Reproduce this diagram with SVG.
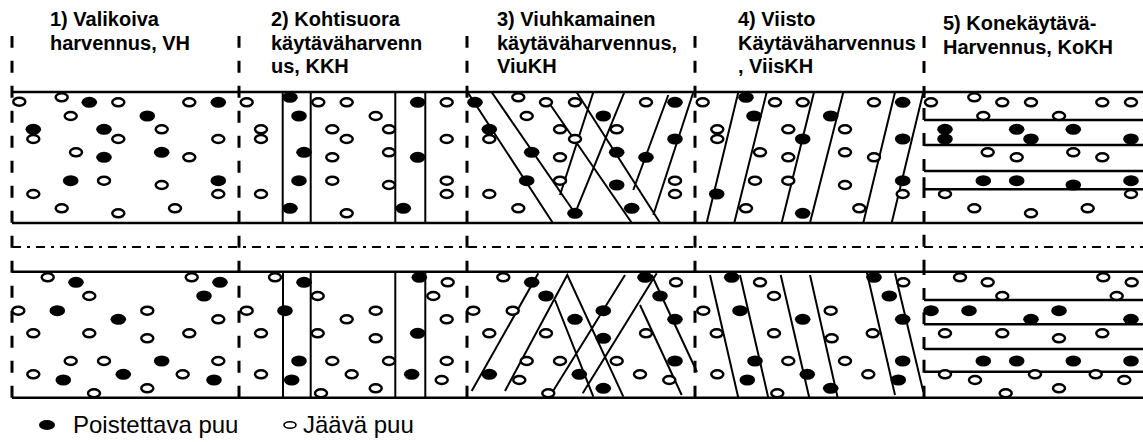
<svg xmlns="http://www.w3.org/2000/svg" xmlns:xlink="http://www.w3.org/1999/xlink" width="1143" height="442" viewBox="0 0 1143 442">
  <style>
    .frame { stroke: #000; stroke-width: 2.5; fill: none; }
    .bound { stroke: #000; stroke-width: 3; fill: none; stroke-dasharray: 12 13; }
    .dd { stroke: #000; stroke-width: 2; fill: none; stroke-dasharray: 9 6 3 6; }
    .cut { stroke: #000; stroke-width: 2; fill: none; }
    .hd { font-family: "Liberation Sans", Arial, sans-serif; font-weight: 700; font-size: 20px; fill: #000; }
    .lg { font-family: "Liberation Sans", Arial, sans-serif; font-size: 24px; fill: #000; }
  </style>
  <defs>
    <ellipse id="k" cx="0" cy="0" rx="7.8" ry="5.5" fill="#000"/>
    <ellipse id="o" cx="0" cy="0" rx="6" ry="4" fill="#fff" stroke="#000" stroke-width="2.5"/>
  </defs>
  <rect width="1143" height="442" fill="#fff"/>

  <!-- headings -->
  <g id="headings">
    <text class="hd" x="50" y="26">1) Valikoiva</text>
    <text class="hd" x="50" y="49.5">harvennus, VH</text>
    <text class="hd" x="271" y="26">2) Kohtisuora</text>
    <text class="hd" x="271" y="49.5">käytäväharvenn</text>
    <text class="hd" x="271" y="73">us, KKH</text>
    <text class="hd" x="497" y="26">3) Viuhkamainen</text>
    <text class="hd" x="497" y="49.5">käytäväharvennus,</text>
    <text class="hd" x="497" y="73">ViuKH</text>
    <text class="hd" x="738" y="26">4) Viisto</text>
    <text class="hd" x="738" y="49.5">Käytäväharvennus</text>
    <text class="hd" x="738" y="73">, ViisKH</text>
    <text class="hd" x="943" y="30">5) Konekäytävä-</text>
    <text class="hd" x="943" y="53.5">Harvennus, KoKH</text>
  </g>

  <!-- stand outline: edges, road strip and plot boundaries -->
  <g id="frame">
    <path class="frame" d="M12 92H1143M12 223H1143M12 271.7H1143M12 397.7H1143"/>
    <path class="dd" d="M12 247H1143"/>
    <path class="bound" d="M12 397.7V36M239 397.7V36M467 397.7V36M695 397.7V36"/>
    <path class="bound" d="M924 98V36M924 271.7V223"/>
    <path class="bound" d="M924 223V189.3M924 189.3V171M924 171V145M924 145V120M924 120V92"/>
    <path class="bound" d="M924 397.7V371.7M924 371.7V349M924 349V324.3M924 324.3V300M924 300V271.7"/>
  </g>

  <!-- 1) selective thinning -->
  <g id="panel-1">
    <g id="panel-1-top">
      <use href="#k" x="89.3" y="102.3"/><use href="#k" x="218.3" y="102.3"/><use href="#k" x="147.3" y="116"/>
      <use href="#k" x="33.3" y="129.3"/><use href="#k" x="104" y="129.3"/><use href="#k" x="104" y="157.3"/>
      <use href="#k" x="161.7" y="152.3"/><use href="#k" x="70.7" y="180.7"/><use href="#k" x="218.3" y="180.7"/>
      <use href="#o" x="19.3" y="101.7"/><use href="#o" x="61.7" y="97.3"/><use href="#o" x="118.3" y="102.3"/>
      <use href="#o" x="189.3" y="102.3"/><use href="#o" x="70.7" y="116"/><use href="#o" x="33.3" y="139"/>
      <use href="#o" x="118.3" y="139"/><use href="#o" x="161.7" y="129.3"/><use href="#o" x="218.3" y="139"/>
      <use href="#o" x="76" y="152.3"/><use href="#o" x="189.3" y="157.3"/><use href="#o" x="104" y="180.7"/>
      <use href="#o" x="161.7" y="185"/><use href="#o" x="33.3" y="194"/><use href="#o" x="218.3" y="194"/>
      <use href="#o" x="61.7" y="208.3"/><use href="#o" x="118.3" y="213.3"/><use href="#o" x="175" y="208.3"/>
    </g>
    <g id="panel-1-bottom">
      <use href="#k" x="76" y="282.3"/><use href="#k" x="220" y="282.3"/><use href="#k" x="204" y="296"/>
      <use href="#k" x="57.3" y="310.7"/><use href="#k" x="118.3" y="319.3"/><use href="#k" x="161.7" y="361"/>
      <use href="#k" x="63.3" y="380"/><use href="#k" x="123.3" y="374.3"/><use href="#k" x="214" y="380"/>
      <use href="#o" x="47.7" y="277.3"/><use href="#o" x="191.7" y="277.3"/><use href="#o" x="89.3" y="296"/>
      <use href="#o" x="18.3" y="310.7"/><use href="#o" x="147.3" y="310.7"/><use href="#o" x="218.3" y="319.3"/>
      <use href="#o" x="33.3" y="333.3"/><use href="#o" x="89.3" y="333.3"/><use href="#o" x="147.3" y="338.3"/>
      <use href="#o" x="189.3" y="333.3"/><use href="#o" x="70.7" y="361"/><use href="#o" x="104" y="361"/>
      <use href="#o" x="218.3" y="361"/><use href="#o" x="33.3" y="374.3"/><use href="#o" x="182.7" y="374.3"/>
      <use href="#o" x="94" y="393.3"/><use href="#o" x="147.3" y="388.3"/>
    </g>
  </g>

  <!-- 2) perpendicular strip thinning -->
  <g id="panel-2">
    <path class="cut" d="M282.7 92V223M310.7 92V223M395.3 92V223M425.3 92V223M283 271.7V397.7M310.7 271.7V397.7M395.3 271.7V397.7M425.3 271.7V397.7"/>
    <g id="panel-2-top">
      <use href="#k" x="290" y="97.3"/><use href="#k" x="417.7" y="102.3"/><use href="#k" x="299" y="116"/>
      <use href="#k" x="304" y="152.3"/><use href="#k" x="417.7" y="157.3"/><use href="#k" x="299" y="180.7"/>
      <use href="#k" x="290" y="208.3"/><use href="#k" x="403.3" y="208.3"/>
      <use href="#o" x="246.7" y="102.3"/><use href="#o" x="318.3" y="102.3"/><use href="#o" x="346.7" y="102.3"/>
      <use href="#o" x="446.7" y="102.3"/><use href="#o" x="375.7" y="116"/><use href="#o" x="261" y="129.3"/>
      <use href="#o" x="261" y="139"/><use href="#o" x="332.3" y="129.3"/><use href="#o" x="346.7" y="139"/>
      <use href="#o" x="389" y="129.3"/><use href="#o" x="446.7" y="139"/><use href="#o" x="332.3" y="157.3"/>
      <use href="#o" x="389" y="152.3"/><use href="#o" x="332.3" y="180.7"/><use href="#o" x="389" y="185"/>
      <use href="#o" x="446.7" y="180.7"/><use href="#o" x="261" y="194"/><use href="#o" x="446.7" y="194"/>
      <use href="#o" x="346.7" y="213.3"/>
    </g>
    <g id="panel-2-bottom">
      <use href="#k" x="304" y="282.3"/><use href="#k" x="419.3" y="277.3"/><use href="#k" x="285" y="310.7"/>
      <use href="#k" x="417.7" y="333.3"/><use href="#k" x="299" y="361"/><use href="#k" x="291.7" y="380"/>
      <use href="#k" x="411.7" y="374.3"/>
      <use href="#o" x="275" y="277.3"/><use href="#o" x="447.7" y="282.3"/><use href="#o" x="317.7" y="296"/>
      <use href="#o" x="433.3" y="296"/><use href="#o" x="246.7" y="310.7"/><use href="#o" x="346.7" y="319.3"/>
      <use href="#o" x="375.7" y="310.7"/><use href="#o" x="446.7" y="319.3"/><use href="#o" x="261" y="333.3"/>
      <use href="#o" x="317.7" y="333.3"/><use href="#o" x="375.7" y="338.3"/><use href="#o" x="332.3" y="361"/>
      <use href="#o" x="389" y="361"/><use href="#o" x="446.7" y="361"/><use href="#o" x="261" y="374.3"/>
      <use href="#o" x="351.7" y="374.3"/><use href="#o" x="441.7" y="380"/><use href="#o" x="321" y="393.3"/>
      <use href="#o" x="375.7" y="388.3"/>
    </g>
  </g>

  <!-- 3) fan-shaped strip thinning -->
  <g id="panel-3">
    <path class="cut" d="M468.3 93.3L552.7 222.7M491.7 92.3L575 213.3M549.3 103.3L631.7 222.7M576.7 92.3L660 222.7M593.3 92.3L560 195M624.3 92.3L575 213.3M668.3 95L633.3 190M693.3 92.3L653.3 215"/>
    <path class="cut" d="M471.7 391L538.3 273.3M505 391L567.3 275L623.3 396.7M555 300L593.3 396.7M625 275L551.7 393.3M656.7 273.3L582.7 393.3M640 305L681.7 395M651.7 275L697 372"/>
    <g id="panel-3-top">
      <use href="#k" x="475" y="102.3"/><use href="#k" x="675" y="102.3"/><use href="#k" x="603.3" y="116"/>
      <use href="#k" x="489.3" y="129.3"/><use href="#k" x="675" y="139"/><use href="#k" x="531.7" y="152.3"/>
      <use href="#k" x="616.7" y="152.3"/><use href="#k" x="646" y="157.3"/><use href="#k" x="526.7" y="180.7"/>
      <use href="#k" x="616.7" y="185"/><use href="#k" x="575" y="213.3"/><use href="#k" x="631.7" y="208.3"/>
      <use href="#o" x="518.3" y="97.3"/><use href="#o" x="546" y="102.3"/><use href="#o" x="575" y="102.3"/>
      <use href="#o" x="646" y="102.3"/><use href="#o" x="526.7" y="116"/><use href="#o" x="489.3" y="139"/>
      <use href="#o" x="560" y="129.3"/><use href="#o" x="575" y="139"/><use href="#o" x="616.7" y="129.3"/>
      <use href="#o" x="560" y="157.3"/><use href="#o" x="560" y="180.7"/><use href="#o" x="675" y="180.7"/>
      <use href="#o" x="489.3" y="194"/><use href="#o" x="675" y="194"/><use href="#o" x="518.3" y="208.3"/>
    </g>
    <g id="panel-3-bottom">
      <use href="#k" x="531.7" y="282.3"/><use href="#k" x="645" y="277.3"/><use href="#k" x="546" y="296"/>
      <use href="#k" x="660" y="296"/><use href="#k" x="575" y="319.3"/><use href="#k" x="603.3" y="310.7"/>
      <use href="#k" x="675" y="319.3"/><use href="#k" x="603.3" y="338.3"/><use href="#k" x="675" y="361"/>
      <use href="#k" x="489.3" y="374.3"/><use href="#k" x="579.3" y="374.3"/><use href="#k" x="603.3" y="388.3"/>
      <use href="#o" x="503.3" y="277.3"/><use href="#o" x="676" y="282.3"/><use href="#o" x="473.3" y="310.7"/>
      <use href="#o" x="512.7" y="310.7"/><use href="#o" x="489.3" y="333.3"/><use href="#o" x="546" y="333.3"/>
      <use href="#o" x="646" y="333.3"/><use href="#o" x="526.7" y="361"/><use href="#o" x="560" y="361"/>
      <use href="#o" x="616.7" y="361"/><use href="#o" x="519.3" y="380"/><use href="#o" x="640" y="374.3"/>
      <use href="#o" x="669.3" y="380"/><use href="#o" x="548.3" y="393.3"/>
    </g>
  </g>

  <!-- 4) oblique strip thinning -->
  <g id="panel-4">
    <path class="cut" d="M706.7 222.7L738.3 92.3M734.3 222.7L766.7 92.3M781.7 222.7L814 92.3M810 222.7L843.3 92.3M863.3 222.7L895 92.3M891.7 222.7L923.3 92.3"/>
    <path class="cut" d="M710 275L738.3 397.7M740 275L768.3 397.7M780.7 275L809.3 397.7M810 275L837.7 397.7M866.7 271.7L895 395M895 273.3L923.3 391.7"/>
    <g id="panel-4-top">
      <use href="#k" x="746" y="97.3"/><use href="#k" x="902.7" y="102.3"/><use href="#k" x="754" y="116"/>
      <use href="#k" x="830.7" y="116"/><use href="#k" x="802.7" y="139"/><use href="#k" x="902.7" y="139"/>
      <use href="#k" x="902.7" y="180.7"/><use href="#k" x="716.7" y="194"/><use href="#k" x="802.7" y="213.3"/>
      <use href="#o" x="702.7" y="102.3"/><use href="#o" x="775" y="102.3"/><use href="#o" x="802.7" y="102.3"/>
      <use href="#o" x="874" y="102.3"/><use href="#o" x="717.3" y="129.3"/><use href="#o" x="717.3" y="139"/>
      <use href="#o" x="788.3" y="129.3"/><use href="#o" x="845" y="129.3"/><use href="#o" x="760" y="152.3"/>
      <use href="#o" x="788.3" y="157.3"/><use href="#o" x="845" y="152.3"/><use href="#o" x="874" y="157.3"/>
      <use href="#o" x="755" y="180.7"/><use href="#o" x="788.3" y="180.7"/><use href="#o" x="845" y="185"/>
      <use href="#o" x="902.7" y="194"/><use href="#o" x="746" y="208.3"/><use href="#o" x="859.3" y="208.3"/>
    </g>
    <g id="panel-4-bottom">
      <use href="#k" x="731.7" y="277.3"/><use href="#k" x="874" y="277.3"/><use href="#k" x="889.3" y="296"/>
      <use href="#k" x="740" y="310.7"/><use href="#k" x="802.7" y="319.3"/><use href="#k" x="902.7" y="319.3"/>
      <use href="#k" x="755" y="361"/><use href="#k" x="902.7" y="361"/><use href="#k" x="747.3" y="380"/>
      <use href="#k" x="807.3" y="374.3"/><use href="#k" x="898.3" y="380"/><use href="#k" x="830.7" y="388.3"/>
      <use href="#o" x="760" y="282.3"/><use href="#o" x="903.3" y="282.3"/><use href="#o" x="774" y="296"/>
      <use href="#o" x="703.3" y="310.7"/><use href="#o" x="830.7" y="310.7"/><use href="#o" x="716.7" y="333.3"/>
      <use href="#o" x="774" y="333.3"/><use href="#o" x="831.7" y="338.3"/><use href="#o" x="872.7" y="333.3"/>
      <use href="#o" x="788.3" y="361"/><use href="#o" x="845" y="361"/><use href="#o" x="717.3" y="374.3"/>
      <use href="#o" x="868.3" y="374.3"/><use href="#o" x="777.3" y="393.3"/>
    </g>
  </g>

  <!-- 5) machine strip thinning -->
  <g id="panel-5">
    <path class="frame" d="M924 120H1143M924 145H1143M924 171H1143M924 189.3H1143M924 300H1143M924 324.3H1143M924 349H1143M924 371.7H1143"/>
    <g id="panel-5-top">
      <use href="#k" x="945" y="129.3"/><use href="#k" x="945" y="139"/><use href="#k" x="1016.7" y="129.3"/>
      <use href="#k" x="1031" y="139"/><use href="#k" x="1073.3" y="129.3"/><use href="#k" x="1131" y="139"/>
      <use href="#k" x="983.3" y="180.7"/><use href="#k" x="1016.7" y="180.7"/><use href="#k" x="1073.3" y="185"/>
      <use href="#k" x="1131" y="180.7"/>
      <use href="#o" x="931" y="102.3"/><use href="#o" x="974.3" y="97.3"/><use href="#o" x="1002.3" y="102.3"/>
      <use href="#o" x="1031" y="102.3"/><use href="#o" x="1102.3" y="102.3"/><use href="#o" x="1131" y="102.3"/>
      <use href="#o" x="983.3" y="116"/><use href="#o" x="1059" y="116"/><use href="#o" x="987.7" y="152.3"/>
      <use href="#o" x="1016.7" y="157.3"/><use href="#o" x="1073.3" y="152.3"/><use href="#o" x="1102.3" y="157.3"/>
      <use href="#o" x="945" y="194"/><use href="#o" x="1131" y="194"/><use href="#o" x="974.3" y="208.3"/>
      <use href="#o" x="1031" y="213.3"/><use href="#o" x="1087.7" y="208.3"/>
    </g>
    <g id="panel-5-bottom">
      <use href="#k" x="931" y="310.7"/><use href="#k" x="969" y="310.7"/><use href="#k" x="1031" y="319.3"/>
      <use href="#k" x="1059" y="310.7"/><use href="#k" x="1131" y="319.3"/><use href="#k" x="983.3" y="361"/>
      <use href="#k" x="1016.7" y="361"/><use href="#k" x="1073.3" y="361"/><use href="#k" x="1131" y="361"/>
      <use href="#o" x="960" y="277.3"/><use href="#o" x="987.7" y="282.3"/><use href="#o" x="1103.3" y="277.3"/>
      <use href="#o" x="1131.7" y="282.3"/><use href="#o" x="1002.3" y="296"/><use href="#o" x="1116.7" y="296"/>
      <use href="#o" x="945" y="333.3"/><use href="#o" x="1002.3" y="333.3"/><use href="#o" x="1059" y="338.3"/>
      <use href="#o" x="1102.3" y="333.3"/><use href="#o" x="945" y="374.3"/><use href="#o" x="975" y="380"/>
      <use href="#o" x="1035" y="374.3"/><use href="#o" x="1095.7" y="374.3"/><use href="#o" x="1124.3" y="380"/>
      <use href="#o" x="1005.7" y="393.3"/><use href="#o" x="1059" y="388.3"/>
    </g>
  </g>

  <!-- legend -->
  <g id="legend">
    <ellipse cx="47" cy="425" rx="8" ry="5" fill="#000"/>
    <text class="lg" x="73" y="433">Poistettava puu</text>
    <ellipse cx="290" cy="425" rx="6" ry="3.3" fill="#fff" stroke="#000" stroke-width="1.6"/>
    <text class="lg" x="303" y="433">Jäävä puu</text>
  </g>
</svg>
